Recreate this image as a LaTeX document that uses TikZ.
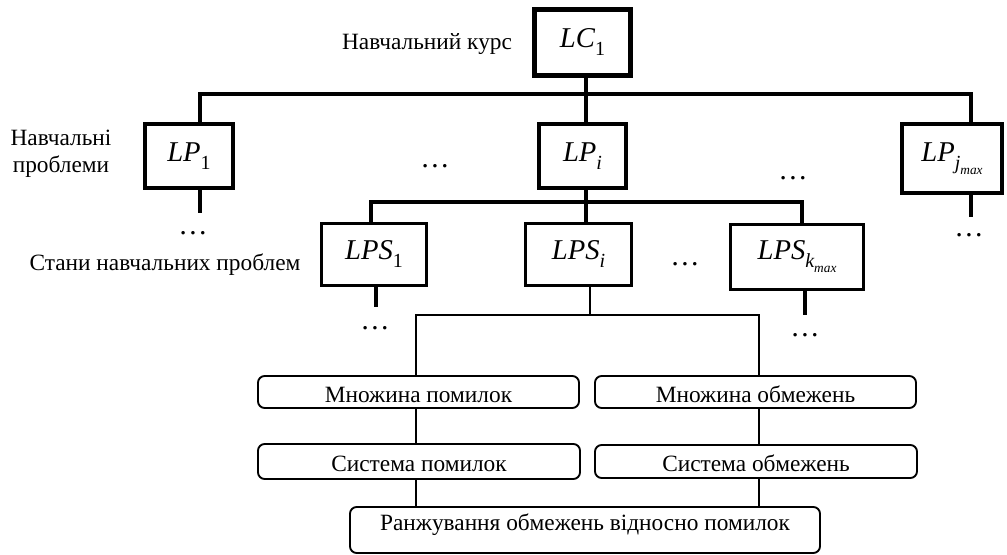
\documentclass[tikz,border=0pt]{standalone}
\usepackage{fontspec}
\setmainfont{Liberation Serif}
\newcommand\lsub[1]{\raisebox{-0.28em}{\fontsize{15}{15}\selectfont #1}}
\newcommand\lsubsub[1]{\raisebox{-0.25em}{\fontsize{10}{10}\selectfont #1}}

\begin{document}
\begin{tikzpicture}[x=0.75pt,y=-0.75pt,font=\fontsize{17.5}{20}\selectfont,
  sz/.style 2 args={minimum width=#1*0.75pt,minimum height=#2*0.75pt},
  lab/.style={font=\fontsize{21.5}{24}\selectfont\itshape},
  lc/.style={draw,line width=3.5pt,inner sep=0pt,lab},
  lp/.style={draw,line width=3pt,inner sep=0pt,lab},
  lps/.style={draw,line width=2.2pt,inner sep=0pt,lab},
  rbox/.style={draw,line width=1.4pt,rounded corners=5pt,inner sep=0pt,text height=15pt,text depth=0pt},
  dots/.style={font=\fontsize{22}{24}\selectfont},
  bus/.style={line width=3pt},
  sbus/.style={line width=2.4pt},
  tbus/.style={line width=1.4pt}]
\useasboundingbox (0,0) rectangle (1007,555);
\node[lc,sz={96}{66}] (lc1) at (582.5,42.5) {LC\lsub{\upshape 1}};
\node (tlc) at (427,44) {Навчальний курс};
\node[lp,sz={88}{64}] (lp1) at (189,156) {LP\lsub{\upshape 1}};
\node[lp,sz={87}{64}] (lpi) at (582.5,156) {LP\lsub{i}};
\node[lp,sz={100}{69}] (lpj) at (952,158.5) {LP\lsub{j\lsubsub{max}}};
\node[align=center] (tlp) at (61,154) {Навчальні\\проблеми};
\node[lps,sz={105}{62}] (lps1) at (374,254.5) {LPS\lsub{\upshape 1}};
\node[lps,sz={106}{62}] (lpsi) at (578.5,254.5) {LPS\lsub{i}};
\node[lps,sz={133}{65}] (lpsk) at (797,257) {LPS\lsub{k\lsubsub{max}}};
\node (tlps) at (165,265) {Стани навчальних проблем};
\node[rbox,sz={321}{32},text height=16pt] (m1) at (418.5,392) {Множина помилок};
\node[rbox,sz={321}{32},text height=16pt] (m2) at (755.5,392) {Множина обмежень};
\node[rbox,sz={322}{35}] (s1) at (419,461.5) {Система помилок};
\node[rbox,sz={322}{33}] (s2) at (756,461.5) {Система обмежень};
\node[rbox,sz={470}{46},text height=12pt,text depth=11pt] (r) at (585,530) {Ранжування обмежень відносно помилок};
% dots
\node[dots] (d1) at (193,233) {\dots};
\node[dots] (d2) at (435,166) {\dots};
\node[dots] (d3) at (793,178) {\dots};
\node[dots] (d4) at (969,235) {\dots};
\node[dots] (d5) at (375,328) {\dots};
\node[dots] (d6) at (685,264) {\dots};
\node[dots] (d7) at (805,335) {\dots};
% bus ends
\coordinate (bl) at (200,94);
\coordinate (br) at (971,94);
\coordinate (bm) at (586,94);
\coordinate (cl) at (371,202);
\coordinate (cr) at (802,202);
\coordinate (fl) at (416,315);
\coordinate (fm) at (590,315);
\coordinate (fr) at (759,315);
\coordinate (e1) at (200,213);
\coordinate (e4) at (971,217);
\coordinate (e5) at (376,307);
\coordinate (e7) at (805,315);
\draw[bus] (lp1.north -| bl) -- (bl) -- (br) -- (lpj.north -| br);
\path[bus] (lc1.south -| bm) edge (lpi.north -| bm) (lp1.south -| bl) edge (e1) (lpj.south -| br) edge (e4);
\draw[sbus] (lps1.north -| cl) -- (cl) -- (cr) -- (lpsk.north -| cr);
\path[sbus] (lpi.south -| bm) edge (lpsi.north -| bm) (lps1.south -| e5) edge (e5) (lpsk.south -| e7) edge (e7);
\draw[tbus] (m1.north -| fl) -- (fl) -- (fr) -- (m2.north -| fr);
\path[tbus] (lpsi.south -| fm) edge (fm)
  (m1.south -| fl) edge (s1.north -| fl) (s1.south -| fl) edge (r.north -| fl)
  (m2.south -| fr) edge (s2.north -| fr) (s2.south -| fr) edge (r.north -| fr);
\end{tikzpicture}
\end{document}
